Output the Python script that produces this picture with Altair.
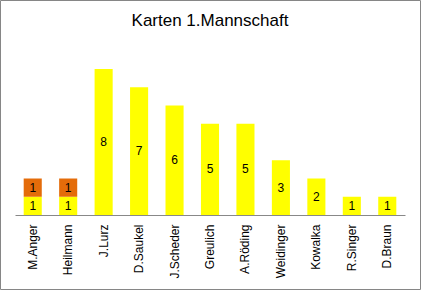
import altair as alt
import pandas as pd

players = ["M.Anger", "Heilmann", "J.Lurz", "D.Saukel", "J.Scheder", "Greulich",
           "A.Röding", "Weidinger", "Kowalka", "R.Singer", "D.Braun"]
gelb = [1, 1, 8, 7, 6, 5, 5, 3, 2, 1, 1]
rot = [1, 1, 0, 0, 0, 0, 0, 0, 0, 0, 0]
kinds = ["Gelb", "Rot"]
colors = ["#FFFF00", "#E46C0A"]

rows = []
for p, g, r in zip(players, gelb, rot):
    rows.append({"Spieler": p, "Karte": "Gelb", "Anzahl": g, "o": 0})
    rows.append({"Spieler": p, "Karte": "Rot", "Anzahl": r, "o": 1})
df = pd.DataFrame(rows)

FONT = "Liberation Sans"

base = (
    alt.Chart(df)
    .transform_filter("datum.Anzahl > 0")
    .transform_stack(stack="Anzahl", groupby=["Spieler"], as_=["y0", "y1"],
                     sort=[alt.SortField("o")])
    .transform_calculate(mid="(datum.y0 + datum.y1) / 2")
)

x = alt.X(
    "Spieler:N", sort=players, title=None,
    scale=alt.Scale(paddingInner=0.49, paddingOuter=0.245),
    axis=alt.Axis(labelAngle=270, labelFont=FONT, labelFontSize=12, labelColor="#000000",
                  labelPadding=9, ticks=False, domainColor="#888888", domainWidth=1,
                  labelLimit=200),
)
yscale = alt.Scale(domain=[0, 8])

bars = base.mark_bar().encode(
    x=x,
    y=alt.Y("y0:Q", scale=yscale, axis=None),
    y2="y1:Q",
    color=alt.Color("Karte:N", scale=alt.Scale(domain=kinds, range=colors), legend=None),
)

labels = base.mark_text(font=FONT, fontSize=12, color="#000000", baseline="middle").encode(
    x=x,
    y=alt.Y("mid:Q", scale=yscale),
    text="Anzahl:Q",
)

border = alt.Chart(pd.DataFrame({"a": [0]})).mark_rect(
    fill=None, stroke="#868686", strokeWidth=1
).encode(
    x=alt.value(-14.5), x2=alt.value(405.5), y=alt.value(-68.5), y2=alt.value(220.5)
)

chart = (
    alt.layer(bars, labels, border)
    .properties(
        width=390, height=146,
        title=alt.TitleParams("Karten 1.Mannschaft", font=FONT, fontSize=17,
                              fontWeight="normal", color="#000000", offset=-30,
                              frame="group", anchor="middle"),
        autosize=alt.AutoSizeParams(type="none"),
        padding={"left": 15, "top": 69, "right": 17, "bottom": 76},
    )
    .configure(background="#FFFFFF")
    .configure_view(strokeWidth=0, stroke="transparent")
)

chart.save("out.html", embed_options={"renderer": "svg", "actions": False})
